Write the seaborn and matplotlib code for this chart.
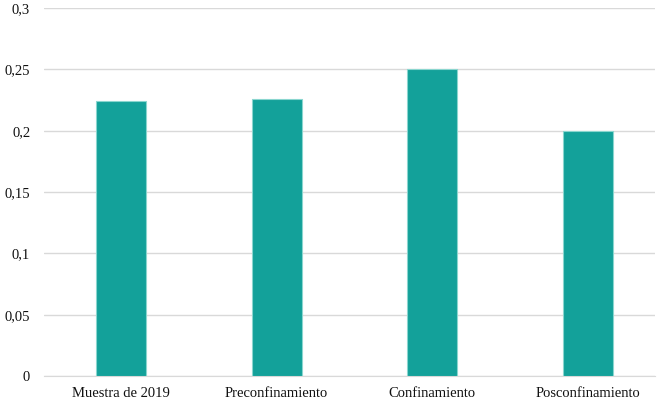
import numpy as np
import pandas as pd
import matplotlib.pyplot as plt
import seaborn as sns
from matplotlib.ticker import FuncFormatter

# data
categorias = ["Muestra de 2019", "Preconfinamiento", "Confinamiento", "Posconfinamiento"]
valores = [0.224, 0.226, 0.25, 0.2]

df = pd.DataFrame({"categoria": categorias, "valor": valores})

sns.set_style("white")
plt.rcParams["font.family"] = ["Liberation Serif", "DejaVu Serif"]

fig = plt.figure(figsize=(6.62, 4.08), dpi=100)
ax = fig.add_axes([0.0665, 0.0784, 0.9225, 0.9016])

sns.barplot(data=df, x="categoria", y="valor", color="#13a19a", saturation=1,
            width=0.32, edgecolor="#8ad6cf", linewidth=0.8, ax=ax, zorder=3)

ax.set_ylim(0, 0.3)
ax.set_xlim(-0.495, 3.43)
ax.set_yticks(np.arange(0, 0.3001, 0.05))
ax.yaxis.set_major_formatter(FuncFormatter(lambda v, p: ("%g" % round(v, 2)).replace(".", ",")))
ax.grid(axis="y", color="#d9d9d9", linewidth=1, zorder=0)
ax.set_xlabel("")
ax.set_ylabel("")
for s in ["top", "right", "left"]:
    ax.spines[s].set_visible(False)
ax.spines["bottom"].set_color("#d9d9d9")
ax.tick_params(axis="both", length=0, labelsize=10.5, colors="#111111", pad=8)
ax.tick_params(axis="y", pad=10)

plt.savefig("out.png", dpi=100)
